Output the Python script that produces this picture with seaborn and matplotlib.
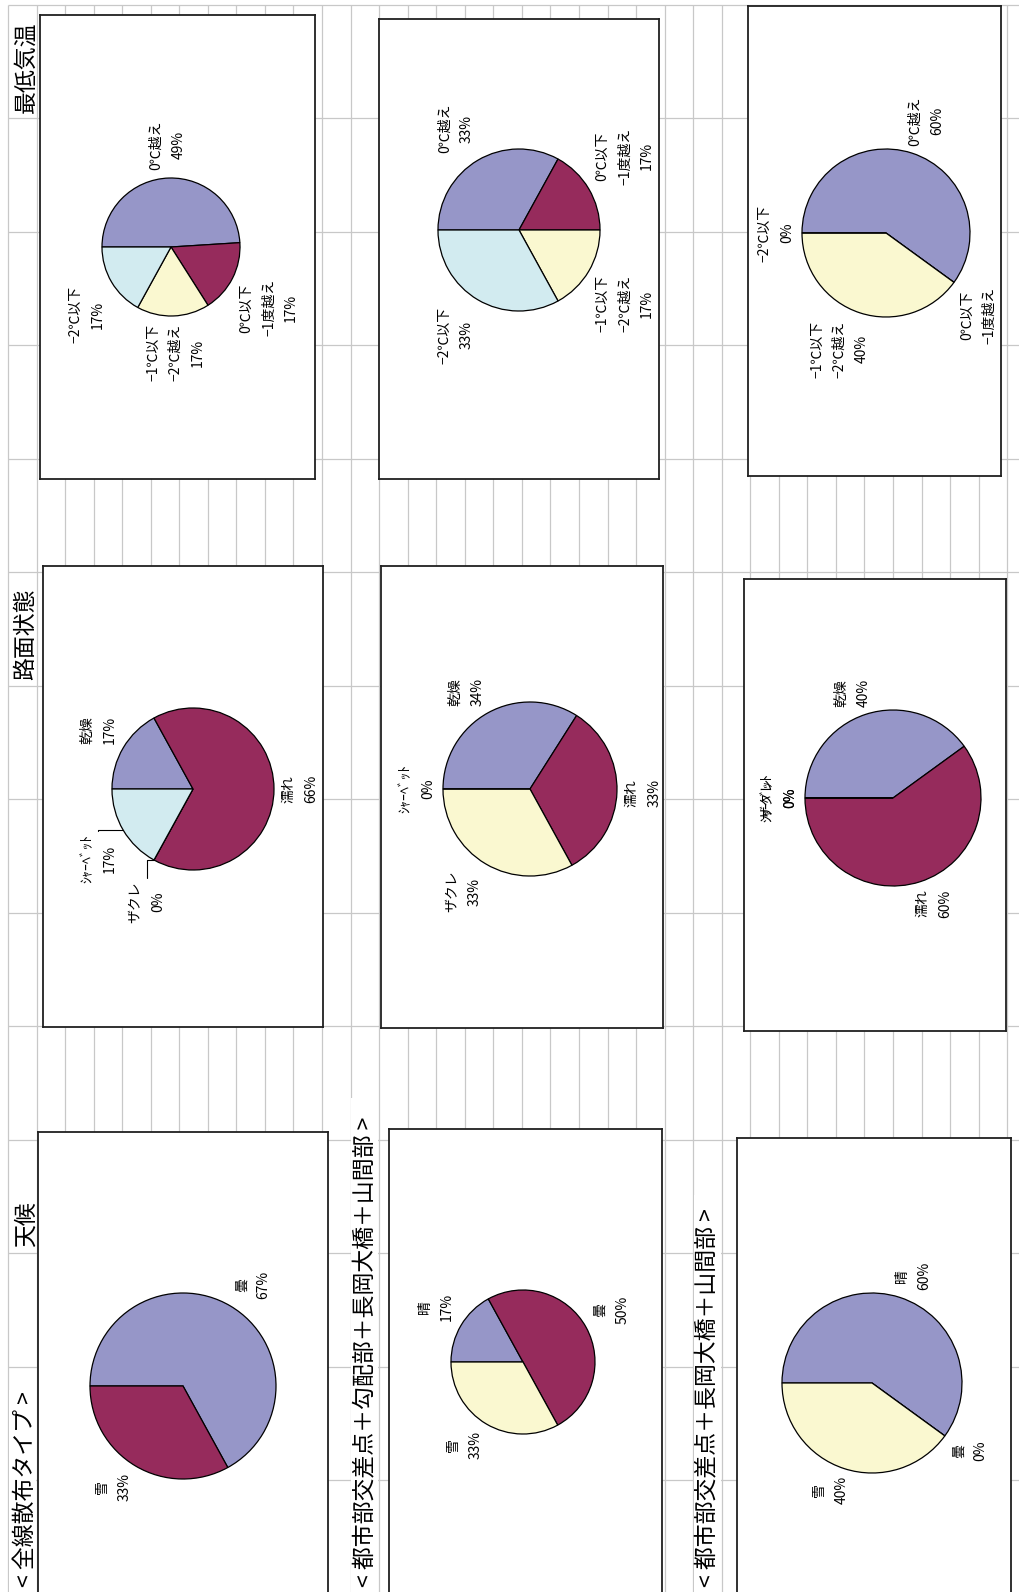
import numpy as np
import matplotlib
matplotlib.use("Agg")
import matplotlib.pyplot as plt
from matplotlib.patches import Rectangle
import seaborn as sns

# ---------------- data ----------------
weather_all_labels = ["曇", "雪"]
weather_all_values = [67, 33]
weather_labels = ["晴", "曇", "雪"]
weather_mix_values = [17, 50, 33]
weather_city_values = [60, 0, 40]

road_labels = ["乾燥", "濡れ", "ザクレ", "ｼｬｰﾍﾞｯﾄ"]
road_all_values = [17, 66, 0, 17]
road_mix_values = [34, 33, 33, 0]
road_city_values = [40, 60, 0, 0]

temp_labels = ["0℃越え", "0℃以下\n−1度越え", "−1℃以下\n−2℃越え", "−2℃以下"]
temp_all_values = [49, 17, 17, 17]
temp_mix_values = [33, 17, 17, 33]
temp_city_values = [60, 0, 40, 0]

group_titles = ["< 全線散布タイプ >",
                "< 都市部交差点＋勾配部＋長岡大橋＋山間部 >",
                "< 都市部交差点＋長岡大橋＋山間部 >"]
section_titles = ["天候", "路面状態", "最低気温"]

# ---------------- style ----------------
W, H = 1020, 1592
sns.set_theme(style="white")
plt.rcParams["font.family"] = ["Noto Sans CJK JP", "DejaVu Sans"]

slice_colors = sns.color_palette(["#9696C8", "#962B5C", "#FAF8D0", "#D2EBF0"])
GRID = "#C8C8C8"
LABEL_SIZE = 10
GAP = 8

fig = plt.figure(figsize=(W / 100, H / 100), dpi=100)
fig.patch.set_facecolor("white")

# sheet background: cell grid, header cells (y measured from the top edge)
bg = fig.add_axes([0, 0, 1, 1])
bg.set_xlim(0, W)
bg.set_ylim(0, H)
bg.axis("off")

col_x = 8 + 28.55 * np.arange(36)
row_y = 5 + 113.46 * np.arange(15)
bg.vlines(col_x, 0, H - 5, color=GRID, lw=0.9, zorder=1)
bg.hlines(H - row_y, 8, W, color=GRID, lw=0.9, zorder=1)

# long group titles overflow across cells, hiding the grid under them
strips = [(col_x[0], col_x[1], 1390, 25), (col_x[12], col_x[13], 1098, 366),
          (col_x[24], col_x[25], 1195, 708)]
for (x0, x1, ytop, tx), title in zip(strips, group_titles):
    bg.add_patch(Rectangle((x0 + 0.8, 0), x1 - x0 - 1.6, H - ytop,
                           facecolor="white", edgecolor="none", zorder=2))
    bg.text(tx, H - 1587, title, rotation=90, ha="center", va="bottom",
            fontsize=16.5, color="black", zorder=3)

for title, ybot in zip(section_titles, [1247, 680, 113]):
    bg.text(26, H - ybot, title, rotation=90, ha="center", va="bottom",
            fontsize=16.5, color="black", zorder=3)

# ---------------- chart frames (pixels from top-left) ----------------
charts = [
    dict(names=weather_all_labels, values=weather_all_values,
         box=(38, 1132, 328, 1600), centre=(183, 1386), radius=93),
    dict(names=weather_labels, values=weather_mix_values,
         box=(389, 1129, 662, 1600), centre=(523, 1362), radius=72),
    dict(names=weather_labels, values=weather_city_values,
         box=(737, 1138, 1011, 1600), centre=(872, 1383), radius=90),
    dict(names=road_labels, values=road_all_values,
         box=(43, 566, 323, 1027), centre=(193, 789), radius=81,
         nudge={2: (14, -14)}, leaders=(2, 3)),
    dict(names=road_labels, values=road_mix_values,
         box=(381, 566, 663, 1028), centre=(530, 789), radius=87),
    dict(names=road_labels, values=road_city_values,
         box=(744, 579, 1006, 1031), centre=(893, 798), radius=88),
    dict(names=temp_labels, values=temp_all_values,
         box=(40, 15, 315, 479), centre=(171, 247), radius=69),
    dict(names=temp_labels, values=temp_mix_values,
         box=(379, 19, 659, 479), centre=(519, 230), radius=81),
    dict(names=temp_labels, values=temp_city_values,
         box=(748, 6, 1001, 476), centre=(886, 233), radius=84),
]

renderer = fig.canvas.get_renderer()

for ch in charts:
    left, top, right, bottom = ch["box"]
    ax = fig.add_axes([left / W, 1 - bottom / H, (right - left) / W, (bottom - top) / H])
    cx, cy = ch["centre"][0], H - ch["centre"][1]
    R = ch["radius"]
    vals = ch["values"]

    ax.pie(vals, colors=slice_colors[:len(vals)], startangle=180, counterclock=False,
           center=(cx, cy), radius=R, frame=True,
           wedgeprops=dict(edgecolor="black", linewidth=0.9))
    ax.set_xlim(left, right)
    ax.set_ylim(H - bottom, H - top)
    ax.set_aspect("auto")
    ax.set_xticks([])
    ax.set_yticks([])
    ax.set_facecolor("white")
    for sp in ax.spines.values():
        sp.set_visible(True)
        sp.set_color("#202020")
        sp.set_linewidth(1.3)

    # data labels outside each slice, rotated with the sheet
    total = float(sum(vals))
    cum = 0.0
    nudge = ch.get("nudge", {})
    leaders = ch.get("leaders", ())
    for i, (name, v) in enumerate(zip(ch["names"], vals)):
        mid = np.deg2rad(180 - 360 * (cum + v / 2) / total)
        cum += v
        c, s = np.cos(mid), np.sin(mid)
        t = ax.text(0, 0, f"{name}\n{v}%", rotation=90, ha="center", va="center",
                    multialignment="center", fontsize=LABEL_SIZE, linespacing=1.75,
                    color="black", clip_on=True)
        bb = t.get_window_extent(renderer)
        w, h = bb.width, bb.height
        lx = cx + (R + GAP) * c + w / 2 * np.clip(c / 0.5, -1, 1)
        ly = cy + (R + GAP) * s + h / 2 * np.clip(s / 0.5, -1, 1)
        dx, dy = nudge.get(i, (0, 0))
        lx, ly = lx + dx, ly + dy
        t.set_position((lx, ly))
        if i in leaders:
            ex, ey = cx + R * c, cy + R * s
            ax.plot([ex, lx, lx], [ey, ey, ly + h / 2 + 3], color="black", lw=0.8)

fig.savefig("out.png", dpi=100, facecolor="white")
